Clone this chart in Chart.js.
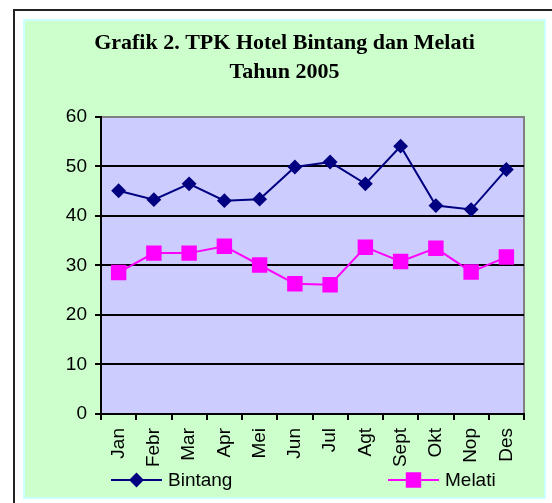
<!DOCTYPE html>
<html>
<head>
<meta charset="utf-8">
<script src="https://cdn.jsdelivr.net/npm/chart.js@4/dist/chart.umd.min.js"></script>
<style>
  html, body { margin: 0; padding: 0; background: #fff; width: 552px; height: 503px; overflow: hidden; }
  #frame { position: absolute; left: 13px; top: 9px; width: 545px; height: 500px;
           border-top: 2px solid #222; border-left: 2px solid #222; }
  #box { position: absolute; left: 23px; top: 19px; width: 523px; height: 480px;
         box-sizing: border-box; background: #CCFFCC; border: 2px solid #CCFFFF; }
  #chart { position: absolute; left: 23px; top: 19px; }
</style>
</head>
<body>
<div id="frame"></div>
<div id="box"></div>
<canvas id="chart" width="523" height="480"></canvas>
<script>
// TPK (tingkat penghunian kamar) per bulan, 2005
const months = ['Jan', 'Febr', 'Mar', 'Apr', 'Mei', 'Jun', 'Jul', 'Agt', 'Sept', 'Okt', 'Nop', 'Des'];
const bintang = [45.1, 43.3, 46.5, 43.1, 43.4, 49.9, 50.9, 46.5, 54.1, 42.1, 41.3, 49.4];
const melati = [28.6, 32.5, 32.5, 33.9, 30.1, 26.3, 26.1, 33.7, 30.8, 33.5, 28.7, 31.7];
const yMin = 0, yMax = 60, yStep = 10;

// leading spaces push the title back to the middle of the box (right padding shifts it)
const titleLines = ['    Grafik 2. TPK Hotel Bintang dan Melati', '    Tahun 2005'];

// plot background + gray frame on top/right
const plotBg = {
    id: 'plotBg',
    beforeDraw(chart) {
        const { ctx, chartArea: a } = chart;
        ctx.save();
        ctx.fillStyle = '#CCCCFF';
        ctx.fillRect(a.left, a.top, a.right - a.left, a.bottom - a.top);
        ctx.strokeStyle = '#808080';
        ctx.lineWidth = 2;
        ctx.beginPath();
        ctx.moveTo(a.left, a.top);
        ctx.lineTo(a.right, a.top);
        ctx.lineTo(a.right, a.bottom);
        ctx.stroke();
        ctx.restore();
    }
};

// legend like the excel one: line with marker in the middle
const lineLegend = {
    id: 'lineLegend',
    afterDraw(chart) {
        const ctx = chart.ctx;
        const y = 461;
        const spots = [68, 345];
        ctx.save();
        chart.data.datasets.forEach((ds, i) => {
            const x0 = spots[i];
            ctx.strokeStyle = ds.borderColor;
            ctx.lineWidth = 2;
            ctx.beginPath();
            ctx.moveTo(x0 + 20, y);
            ctx.lineTo(x0 + 71, y);
            ctx.stroke();
            ctx.fillStyle = ds.pointBackgroundColor;
            Chart.helpers.drawPoint(ctx, {
                pointStyle: ds.pointStyle,
                radius: ds.pointRadius,
                borderWidth: 1
            }, x0 + 45.5, y);
            ctx.fill();
            ctx.fillStyle = '#000';
            ctx.font = '19px "Liberation Sans", Arial, sans-serif';
            ctx.textBaseline = 'middle';
            ctx.textAlign = 'left';
            ctx.fillText(ds.label, x0 + 77, y + 1);
        });
        ctx.restore();
    }
};

new Chart(document.getElementById('chart'), {
    type: 'line',
    data: {
        labels: months,
        datasets: [{
            label: 'Bintang',
            data: bintang,
            borderColor: '#000080',
            backgroundColor: '#000080',
            pointBackgroundColor: '#000080',
            pointBorderColor: '#000080',
            pointStyle: 'rectRot',
            pointRadius: 6,
            borderWidth: 2,
            tension: 0
        }, {
            label: 'Melati',
            data: melati,
            borderColor: '#FF00FF',
            backgroundColor: '#FF00FF',
            pointBackgroundColor: '#FF00FF',
            pointBorderColor: '#FF00FF',
            pointStyle: 'rect',
            pointRadius: 9.5,
            borderWidth: 2,
            tension: 0
        }]
    },
    options: {
        responsive: false,
        animation: false,
        layout: { padding: { left: 0, right: 22, top: 0, bottom: 30 } },
        plugins: {
            legend: { display: false },
            tooltip: { enabled: false },
            title: {
                display: true,
                text: titleLines,
                color: '#000',
                font: { family: '"Liberation Serif", "Times New Roman", serif', size: 22, weight: 'bold', lineHeight: 1.318 },
                padding: { top: 10, bottom: 30 }
            }
        },
        scales: {
            x: {
                offset: true,
                grid: { offset: true, drawOnChartArea: false, color: '#000', tickColor: '#000', lineWidth: 2, tickLength: 6 },
                border: { color: '#000', width: 2 },
                ticks: {
                    color: '#000', minRotation: 90, maxRotation: 90, padding: 8,
                    font: { family: '"Liberation Sans", Arial, sans-serif', size: 19 }
                },
                afterFit(scale) { scale.height = 55; }
            },
            y: {
                min: yMin,
                max: yMax,
                ticks: {
                    stepSize: yStep, color: '#000', padding: 8,
                    font: { family: '"Liberation Sans", Arial, sans-serif', size: 19 }
                },
                grid: {
                    color: ctx => ctx.tick && ctx.tick.value === yMax ? '#808080' : '#000',
                    tickColor: '#000', lineWidth: 2, tickLength: 6
                },
                border: { color: '#000', width: 2 },
                afterFit(scale) { scale.width = 78; }
            }
        }
    },
    plugins: [plotBg, lineLegend]
});
</script>
</body>
</html>
